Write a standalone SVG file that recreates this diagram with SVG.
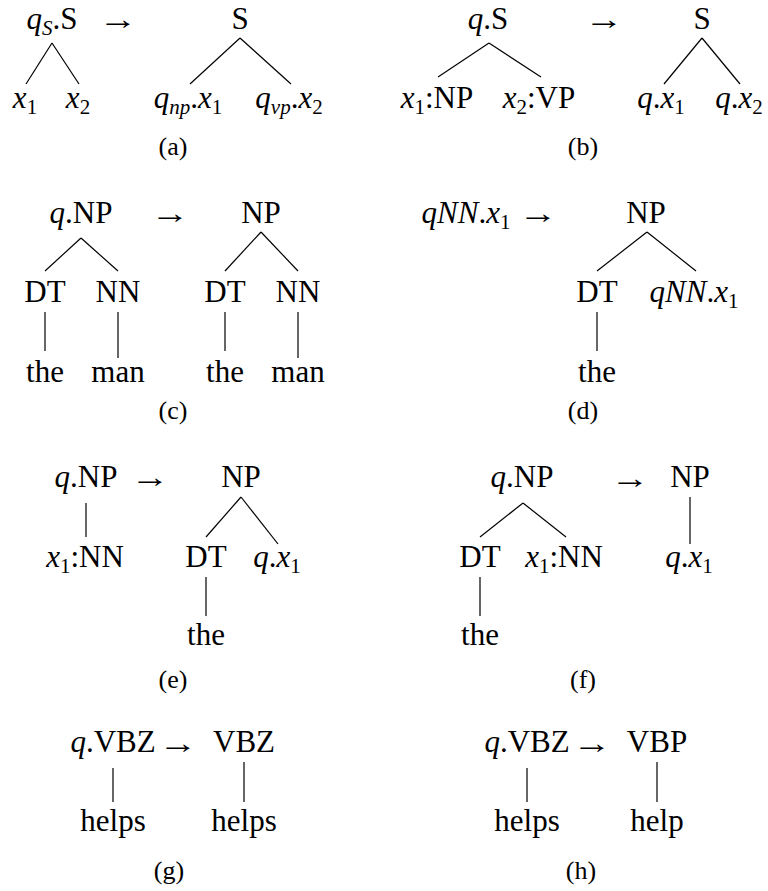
<svg xmlns="http://www.w3.org/2000/svg" width="768" height="891" viewBox="0 0 768 891">
<style>
text{font-family:'Liberation Serif','DejaVu Serif',serif;font-size:31px;fill:#000;text-anchor:middle}
.i{font-style:italic}
.s{font-size:21px}
.cap{font-size:26px}
.arr{font-size:30px}
line{stroke:#000;stroke-width:1.2}
</style>
<rect width="768" height="891" fill="#fff"/>

<g id="panel-a">
<g id="a-lhs"><text x="52" y="29"><tspan class="i">q</tspan><tspan class="s i" dy="6">S</tspan><tspan dy="-6">.S</tspan></text></g>
<g id="a-arrow" transform="translate(118,28.5) scale(1.3,1)"><text class="arr">→</text></g>
<g id="a-rhs"><text x="240" y="29">S</text></g>
<g id="a-x1"><text x="25" y="108"><tspan class="i">x</tspan><tspan class="s" dy="6">1</tspan></text></g>
<g id="a-x2"><text x="78" y="108"><tspan class="i">x</tspan><tspan class="s" dy="6">2</tspan></text></g>
<g id="a-qnp"><text x="188" y="108"><tspan class="i">q</tspan><tspan class="s i" dy="6">np</tspan><tspan dy="-6">.</tspan><tspan class="i">x</tspan><tspan class="s" dy="6">1</tspan></text></g>
<g id="a-qvp"><text x="289" y="108"><tspan class="i">q</tspan><tspan class="s i" dy="6">vp</tspan><tspan dy="-6">.</tspan><tspan class="i">x</tspan><tspan class="s" dy="6">2</tspan></text></g>
<g id="a-cap"><text class="cap" x="173" y="155">(a)</text></g>
</g>

<g id="panel-b">
<g id="b-lhs"><text x="488" y="29"><tspan class="i">q</tspan>.S</text></g>
<g id="b-arrow" transform="translate(604,28.5) scale(1.3,1)"><text class="arr">→</text></g>
<g id="b-rhs"><text x="702" y="29">S</text></g>
<g id="b-x1"><text x="437" y="108"><tspan class="i">x</tspan><tspan class="s" dy="6">1</tspan><tspan dy="-6">:NP</tspan></text></g>
<g id="b-x2"><text x="539" y="108"><tspan class="i">x</tspan><tspan class="s" dy="6">2</tspan><tspan dy="-6">:VP</tspan></text></g>
<g id="b-qx1"><text x="661" y="108"><tspan class="i">q</tspan>.<tspan class="i">x</tspan><tspan class="s" dy="6">1</tspan></text></g>
<g id="b-qx2"><text x="739" y="108"><tspan class="i">q</tspan>.<tspan class="i">x</tspan><tspan class="s" dy="6">2</tspan></text></g>
<g id="b-cap"><text class="cap" x="583" y="155">(b)</text></g>
</g>

<g id="panel-c">
<g id="c-lhs"><text x="81" y="223"><tspan class="i">q</tspan>.NP</text></g>
<g id="c-arrow" transform="translate(170,223) scale(1.3,1)"><text class="arr">→</text></g>
<g id="c-rhs"><text x="261" y="223">NP</text></g>
<g id="c-dt1"><text x="45" y="302">DT</text></g>
<g id="c-nn1"><text x="118" y="302">NN</text></g>
<g id="c-dt2"><text x="225" y="302">DT</text></g>
<g id="c-nn2"><text x="298" y="302">NN</text></g>
<g id="c-the1"><text x="45" y="382">the</text></g>
<g id="c-man1"><text x="118" y="382">man</text></g>
<g id="c-the2"><text x="225" y="382">the</text></g>
<g id="c-man2"><text x="298" y="382">man</text></g>
<g id="c-cap"><text class="cap" x="173" y="419">(c)</text></g>
</g>

<g id="panel-d">
<g id="d-lhs"><text x="466" y="223"><tspan class="i">qNN</tspan>.<tspan class="i">x</tspan><tspan class="s" dy="6">1</tspan></text></g>
<g id="d-arrow" transform="translate(538,223) scale(1.3,1)"><text class="arr">→</text></g>
<g id="d-rhs"><text x="646" y="223">NP</text></g>
<g id="d-dt"><text x="597" y="302">DT</text></g>
<g id="d-qnn"><text x="694" y="302"><tspan class="i">qNN</tspan>.<tspan class="i">x</tspan><tspan class="s" dy="6">1</tspan></text></g>
<g id="d-the"><text x="597" y="382">the</text></g>
<g id="d-cap"><text class="cap" x="583" y="419">(d)</text></g>
</g>

<g id="panel-e">
<g id="e-lhs"><text x="86" y="487"><tspan class="i">q</tspan>.NP</text></g>
<g id="e-arrow" transform="translate(150,487) scale(1.3,1)"><text class="arr">→</text></g>
<g id="e-rhs"><text x="241" y="487">NP</text></g>
<g id="e-x1"><text x="85" y="567"><tspan class="i">x</tspan><tspan class="s" dy="6">1</tspan><tspan dy="-6">:NN</tspan></text></g>
<g id="e-dt"><text x="206" y="567">DT</text></g>
<g id="e-qx1"><text x="277" y="567"><tspan class="i">q</tspan>.<tspan class="i">x</tspan><tspan class="s" dy="6">1</tspan></text></g>
<g id="e-the"><text x="206" y="645">the</text></g>
<g id="e-cap"><text class="cap" x="173" y="688">(e)</text></g>
</g>

<g id="panel-f">
<g id="f-lhs"><text x="522" y="487"><tspan class="i">q</tspan>.NP</text></g>
<g id="f-arrow" transform="translate(630,488) scale(1.3,1)"><text class="arr">→</text></g>
<g id="f-rhs"><text x="690" y="487">NP</text></g>
<g id="f-dt"><text x="480" y="567">DT</text></g>
<g id="f-x1"><text x="564" y="567"><tspan class="i">x</tspan><tspan class="s" dy="6">1</tspan><tspan dy="-6">:NN</tspan></text></g>
<g id="f-qx1"><text x="689" y="567"><tspan class="i">q</tspan>.<tspan class="i">x</tspan><tspan class="s" dy="6">1</tspan></text></g>
<g id="f-the"><text x="480" y="645">the</text></g>
<g id="f-cap"><text class="cap" x="583" y="688">(f)</text></g>
</g>

<g id="panel-g">
<g id="g-lhs"><text x="113" y="752"><tspan class="i">q</tspan>.VBZ</text></g>
<g id="g-arrow" transform="translate(178,753) scale(1.3,1)"><text class="arr">→</text></g>
<g id="g-rhs"><text x="244" y="752">VBZ</text></g>
<g id="g-helps1"><text x="113" y="831">helps</text></g>
<g id="g-helps2"><text x="244" y="831">helps</text></g>
<g id="g-cap"><text class="cap" x="169" y="879">(g)</text></g>
</g>

<g id="panel-h">
<g id="h-lhs"><text x="527" y="752"><tspan class="i">q</tspan>.VBZ</text></g>
<g id="h-arrow" transform="translate(592,753) scale(1.3,1)"><text class="arr">→</text></g>
<g id="h-rhs"><text x="657" y="752">VBP</text></g>
<g id="h-helps"><text x="527" y="831">helps</text></g>
<g id="h-help"><text x="657" y="831">help</text></g>
<g id="h-cap"><text class="cap" x="581" y="879">(h)</text></g>
</g>

<g id="connectors">
<line x1="52" y1="43" x2="26" y2="84"/>
<line x1="52" y1="43" x2="79" y2="84"/>
<line x1="240" y1="38" x2="190" y2="84"/>
<line x1="240" y1="38" x2="291" y2="84"/>
<line x1="489" y1="43" x2="438" y2="77"/>
<line x1="489" y1="43" x2="541" y2="77"/>
<line x1="702" y1="38" x2="664" y2="84"/>
<line x1="702" y1="38" x2="740" y2="84"/>
<line x1="81" y1="238" x2="45" y2="271"/>
<line x1="81" y1="238" x2="118" y2="271"/>
<line x1="261" y1="232" x2="225" y2="271"/>
<line x1="261" y1="232" x2="298" y2="271"/>
<line x1="45" y1="312" x2="45" y2="351"/>
<line x1="118" y1="312" x2="118" y2="358"/>
<line x1="225" y1="312" x2="225" y2="351"/>
<line x1="298" y1="312" x2="298" y2="358"/>
<line x1="647" y1="232" x2="597" y2="271"/>
<line x1="647" y1="232" x2="696" y2="271"/>
<line x1="597" y1="312" x2="597" y2="351"/>
<line x1="86" y1="503" x2="86" y2="537"/>
<line x1="241" y1="497" x2="206" y2="537"/>
<line x1="241" y1="497" x2="278" y2="544"/>
<line x1="206" y1="577" x2="206" y2="616"/>
<line x1="523" y1="503" x2="480" y2="537"/>
<line x1="523" y1="503" x2="566" y2="537"/>
<line x1="480" y1="577" x2="480" y2="616"/>
<line x1="690" y1="497" x2="690" y2="544"/>
<line x1="113" y1="768" x2="113" y2="802"/>
<line x1="244" y1="762" x2="244" y2="802"/>
<line x1="527" y1="768" x2="527" y2="802"/>
<line x1="657" y1="762" x2="657" y2="802"/>
</g>
</svg>
